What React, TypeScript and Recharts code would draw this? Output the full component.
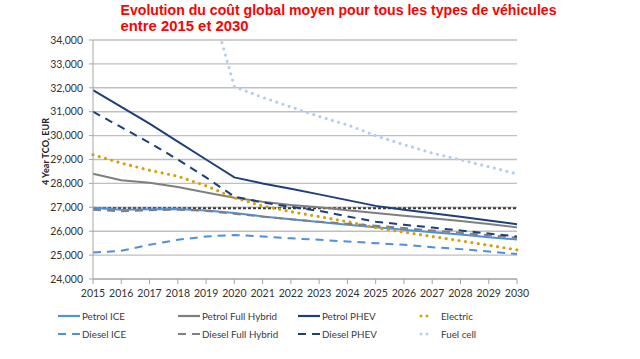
import React from 'react';
import { LineChart, Line, XAxis, YAxis, CartesianGrid, ReferenceLine, Legend } from 'recharts';

const years = [2015, 2016, 2017, 2018, 2019, 2020, 2021, 2022, 2023, 2024, 2025, 2026, 2027, 2028, 2029, 2030];
const petrolICE = [26980, 26900, 26920, 26930, 26870, 26760, 26620, 26500, 26380, 26270, 26170, 26060, 25960, 25860, 25750, 25650];
const dieselICE = [25110, 25180, 25430, 25640, 25780, 25840, 25780, 25700, 25640, 25570, 25500, 25430, 25330, 25250, 25150, 25050];
const petrolFullHybrid = [28400, 28130, 28030, 27850, 27620, 27400, 27230, 27100, 27000, 26880, 26760, 26650, 26540, 26430, 26300, 26160];
const dieselFullHybrid = [26900, 26830, 26880, 26900, 26850, 26730, 26610, 26500, 26400, 26310, 26230, 26130, 26030, 25930, 25830, 25730];
const petrolPHEV = [31900, 31200, 30500, 29750, 29000, 28250, 28000, 27780, 27540, 27300, 27060, 26900, 26750, 26600, 26450, 26290];
const dieselPHEV = [31000, 30350, 29700, 29000, 28250, 27450, 27200, 27020, 26850, 26620, 26400, 26270, 26150, 26030, 25900, 25780];
const electric = [29200, 28850, 28550, 28300, 27900, 27400, 27060, 26820, 26610, 26400, 26150, 25960, 25780, 25600, 25410, 25220];
const fuelCell = [null, null, null, null, 36250, 32050, 31600, 31200, 30800, 30450, 30000, 29620, 29270, 28990, 28700, 28400];
const baselineLevel = 26960;
const yTicks = [24000, 25000, 26000, 27000, 28000, 29000, 30000, 31000, 32000, 33000, 34000];

const data = years.map((year, i) => ({
  year,
  petrolICE: petrolICE[i],
  dieselICE: dieselICE[i],
  petrolFullHybrid: petrolFullHybrid[i],
  dieselFullHybrid: dieselFullHybrid[i],
  petrolPHEV: petrolPHEV[i],
  dieselPHEV: dieselPHEV[i],
  electric: electric[i],
  fuelCell: fuelCell[i],
}));

type S = { key: string; name: string; color: string; dash?: string; width: number; dots?: boolean };
const series: S[] = [
  { key: 'petrolICE', name: 'Petrol ICE', color: '#4F8FDC', width: 2 },
  { key: 'petrolFullHybrid', name: 'Petrol Full Hybrid', color: '#7F7F7F', width: 2 },
  { key: 'petrolPHEV', name: 'Petrol PHEV', color: '#1F3F7A', width: 2 },
  { key: 'electric', name: 'Electric', color: '#D4A00A', width: 3.2, dash: '0 6.5', dots: true },
  { key: 'dieselICE', name: 'Diesel ICE', color: '#4F8FDC', width: 2, dash: '8 6' },
  { key: 'dieselFullHybrid', name: 'Diesel Full Hybrid', color: '#7F7F7F', width: 2, dash: '8 6' },
  { key: 'dieselPHEV', name: 'Diesel PHEV', color: '#1F3F7A', width: 2, dash: '8 6' },
  { key: 'fuelCell', name: 'Fuel cell', color: '#B4CDEE', width: 3.2, dash: '0 6.5', dots: true },
];

const font = 'Lato, "Liberation Sans", Arial, sans-serif';

const legendSymbolX = [58, 178, 298, 419];
const legendRows = [316, 333.5];
const legendTop = 305;

function LegendContent() {
  return (
    <div style={{ position: 'relative', width: 640, height: 50 }}>
      {series.map((s, i) => {
        const col = i % 4;
        const row = Math.floor(i / 4);
        const left = legendSymbolX[col];
        const top = legendRows[row] - legendTop - 7;
        return (
          <div key={s.key} style={{ position: 'absolute', left, top, height: 14, display: 'flex', alignItems: 'center', fontFamily: font, fontSize: 9.8, color: '#3A3A3A', whiteSpace: 'nowrap' }}>
            <svg width={s.dots ? 16 : 23} height={14} style={{ display: 'block' }}>
              {s.dots ? (
                <line x1={2} y1={7} x2={14} y2={7} stroke={s.color} strokeWidth={3} strokeDasharray="0 6" strokeLinecap="round" />
              ) : s.dash ? (
                <line x1={0} y1={7} x2={22} y2={7} stroke={s.color} strokeWidth={2.2} strokeDasharray="8 6 8" />
              ) : (
                <line x1={0} y1={7} x2={22} y2={7} stroke={s.color} strokeWidth={2.2} />
              )}
            </svg>
            <span style={{ marginLeft: s.dots ? 6 : 1 }}>{s.name}</span>
          </div>
        );
      })}
    </div>
  );
}

export default function App() {
  return (
    <div style={{ position: 'absolute', left: 0, top: 0, width: 640, height: 359, background: '#fff' }}>
      <LineChart width={640} height={359} data={data} margin={{ top: 40, right: 123, bottom: 50, left: 0 }}>
        <CartesianGrid vertical={false} stroke="#BFBFBF" strokeWidth={1.4} />
        <XAxis
          dataKey="year"
          type="number"
          domain={[2015, 2030]}
          ticks={years}
          height={30}
          tickLine={{ stroke: '#A6A6A6' }}
          axisLine={{ stroke: '#A6A6A6' }}
          tickSize={5}
          tickMargin={6}
          tick={{ fontFamily: font, fontSize: 10.5, fill: '#333' }}
          interval={0}
        />
        <YAxis
          width={93}
          domain={[24000, 34000]}
          ticks={yTicks}
          allowDataOverflow
          tickFormatter={(v: number) => v.toLocaleString('en-US')}
          tickLine={{ stroke: '#A6A6A6' }}
          axisLine={{ stroke: '#A6A6A6' }}
          tickSize={4}
          tickMargin={6}
          tick={{ fontFamily: font, fontSize: 10.5, fill: '#333' }}
        />
        <ReferenceLine y={baselineLevel} stroke="#3A3A3A" strokeWidth={2} strokeDasharray="3 2" />
        {series.map((s) => (
          <Line
            key={s.key}
            dataKey={s.key}
            name={s.name}
            stroke={s.color}
            strokeWidth={s.width}
            strokeDasharray={s.dash}
            strokeLinecap={s.dots ? 'round' : 'butt'}
            dot={false}
            activeDot={false}
            type="linear"
            isAnimationActive={false}
          />
        ))}
        <Legend verticalAlign="middle" layout="horizontal" wrapperStyle={{ top: legendTop, left: 0, width: 640 }} content={() => <LegendContent />} />
      </LineChart>
      <svg width={640} height={359} style={{ position: 'absolute', left: 0, top: 0, pointerEvents: 'none' }}>
        <text x={120.5} y={15} fill="#FF0000" fontFamily='"Liberation Sans", Arial, sans-serif' fontWeight="bold" fontSize={14} textLength={436} lengthAdjust="spacingAndGlyphs">
          Evolution du coût global moyen pour tous les types de véhicules
        </text>
        <text x={120.5} y={30.5} fill="#FF0000" fontFamily='"Liberation Sans", Arial, sans-serif' fontWeight="bold" fontSize={14} textLength={128} lengthAdjust="spacingAndGlyphs">
          entre 2015 et 2030
        </text>
        <text x={0} y={0} transform="translate(48.5,151.5) rotate(-90)" textAnchor="middle" fill="#222" fontFamily={font} fontWeight="bold" fontSize={9.5} textLength={67} lengthAdjust="spacingAndGlyphs">
          4 Year TCO, EUR
        </text>
      </svg>
    </div>
  );
}
